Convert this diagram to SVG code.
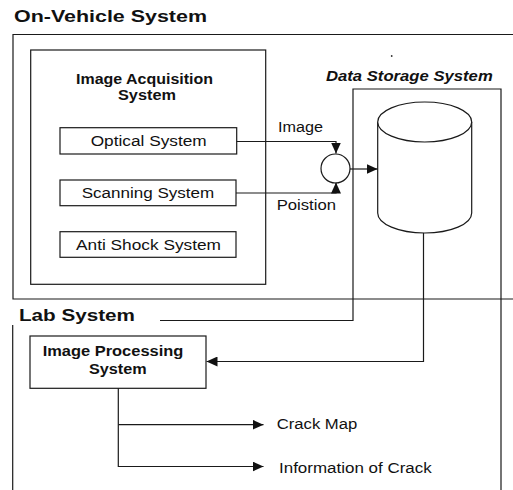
<svg xmlns="http://www.w3.org/2000/svg" width="513" height="490" viewBox="0 0 513 490">
<defs>
<style>
.ln{fill:none;stroke:#1a1a1a;stroke-width:1.2}
.bx{fill:#fff;stroke:#1a1a1a;stroke-width:1.2}
.t{font-family:"Liberation Sans",Arial,sans-serif;fill:#111}
.h{font-size:17px;font-weight:bold}
.b{font-size:14px;font-weight:bold}
.r{font-size:14px}
.bi{font-size:14px;font-weight:bold;font-style:italic}
</style>
<marker id="ah" viewBox="0 0 11 10" refX="11" refY="5" markerWidth="11" markerHeight="10" markerUnits="userSpaceOnUse" orient="auto">
<path d="M0,0 L11,5 L0,10 Z" fill="#111"/>
</marker>
</defs>
<rect width="513" height="490" fill="#fff"/>

<g id="on-vehicle-system">
<path class="ln" d="M513,34.5 H13 V299 H513"/>
<text class="t h" x="14" y="22" textLength="193" lengthAdjust="spacingAndGlyphs">On-Vehicle System</text>
</g>

<g id="image-acquisition-system">
<rect class="bx" x="30.7" y="50" width="235" height="234.3"/>
<text class="t b" x="76" y="84" textLength="137" lengthAdjust="spacingAndGlyphs">Image Acquisition</text>
<text class="t b" x="118" y="100" textLength="58" lengthAdjust="spacingAndGlyphs">System</text>
</g>

<g id="optical-system">
<rect class="bx" x="60" y="127.7" width="176.7" height="26.3"/>
<text class="t r" x="90.7" y="145.5" textLength="116" lengthAdjust="spacingAndGlyphs">Optical System</text>
</g>

<g id="scanning-system">
<rect class="bx" x="60" y="180" width="176" height="25.7"/>
<text class="t r" x="81.7" y="197.5" textLength="132.6" lengthAdjust="spacingAndGlyphs">Scanning System</text>
</g>

<g id="anti-shock-system">
<rect class="bx" x="60" y="231.7" width="176" height="25.6"/>
<text class="t r" x="76" y="249.5" textLength="145" lengthAdjust="spacingAndGlyphs">Anti Shock System</text>
</g>

<g id="merge">
<circle class="bx" cx="335.5" cy="168.5" r="14.5"/>
</g>

<g id="data-storage-system">
<path class="ln" d="M160,320.5 H353 V89 H501 V490"/>
<text class="t bi" x="326" y="81" textLength="166.7" lengthAdjust="spacingAndGlyphs">Data Storage System</text>
<circle cx="391.7" cy="56" r="0.9" fill="#333"/>
</g>

<g id="database">
<path class="bx" d="M377.7,122 V213 A47,20 0 0 0 471.7,213 V122"/>
<ellipse class="bx" cx="424.7" cy="122" rx="47" ry="20"/>
</g>

<g id="lab-system">
<path class="ln" d="M12.7,325 V490"/>
<text class="t h" x="19" y="321" textLength="116" lengthAdjust="spacingAndGlyphs">Lab System</text>
</g>

<g id="image-processing-system">
<rect class="bx" x="30" y="336" width="176" height="52.3"/>
<text class="t b" x="42.7" y="356" textLength="140.6" lengthAdjust="spacingAndGlyphs">Image Processing</text>
<text class="t b" x="89" y="374" textLength="57.7" lengthAdjust="spacingAndGlyphs">System</text>
</g>

<g id="outputs">
<text class="t r" x="276.7" y="428.5" textLength="80.6" lengthAdjust="spacingAndGlyphs">Crack Map</text>
<text class="t r" x="279" y="473" textLength="152.7" lengthAdjust="spacingAndGlyphs">Information of Crack</text>
</g>

<g id="connectors">
<path class="ln" d="M236.7,141.5 H336 V153.5" marker-end="url(#ah)"/>
<path class="ln" d="M236,193 H336 V182.5" marker-end="url(#ah)"/>
<path class="ln" d="M350,169 H377.5" marker-end="url(#ah)"/>
<path class="ln" d="M423.5,233 V361.5 H206.5" marker-end="url(#ah)"/>
<path class="ln" d="M118.3,388.3 V466.5 H263.5" marker-end="url(#ah)"/>
<path class="ln" d="M118.3,424.7 H263.5" marker-end="url(#ah)"/>
<text class="t r" x="278" y="131.5" textLength="45" lengthAdjust="spacingAndGlyphs">Image</text>
<text class="t r" x="276.7" y="210" textLength="59.3" lengthAdjust="spacingAndGlyphs">Poistion</text>
</g>
</svg>
